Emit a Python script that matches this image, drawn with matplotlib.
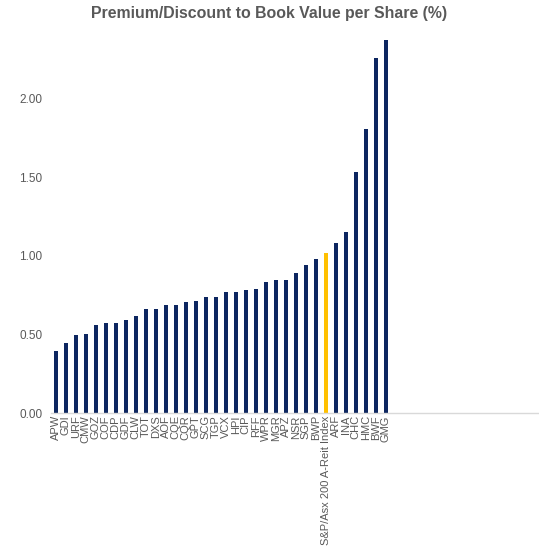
import matplotlib

matplotlib.use("Agg")

import matplotlib.pyplot as plt

plt.rcParams["font.family"] = ["Liberation Sans", "DejaVu Sans"]

tickers = [
    "APW", "GDI", "URF", "CMW", "GOZ", "COF", "CDP", "GDF", "CLW", "TOT",
    "DXS", "AOF", "CQE", "CQR", "GPT", "SCG", "TGP", "VCX", "HPI", "CIP",
    "RFF", "WPR", "MGR", "APZ", "NSR", "SGP", "BWP", "S&P/Asx 200 A-Reit Index",
    "ARF", "INA", "CHC", "HMC", "BWF", "GMG",
]
values = [
    0.396, 0.443, 0.494, 0.504, 0.560, 0.570, 0.570, 0.594, 0.617, 0.662,
    0.664, 0.685, 0.685, 0.708, 0.710, 0.738, 0.738, 0.768, 0.768, 0.781,
    0.791, 0.836, 0.847, 0.847, 0.887, 0.943, 0.976, 1.019,
    1.078, 1.153, 1.534, 1.804, 2.255, 2.372,
]
highlight = "S&P/Asx 200 A-Reit Index"

NAVY = "#0D2660"
GOLD = "#FFC000"
GREY = "#595959"

fig = plt.figure(figsize=(5.39, 5.53), dpi=100)
ax = fig.add_axes([0.094, 0.253, 0.906, 0.683])

colors = [GOLD if t == highlight else NAVY for t in tickers]
ax.bar(range(len(tickers)), values, width=0.4, color=colors)

ax.set_xlim(-0.5, 48.3)
ax.set_ylim(0, 2.4)
ax.set_yticks([0, 0.5, 1.0, 1.5, 2.0])
ax.set_yticklabels(["0.00", "0.50", "1.00", "1.50", "2.00"])
ax.set_xticks(range(len(tickers)))
ax.set_xticklabels(tickers, rotation=90)
ax.tick_params(axis="both", length=0, labelsize=8, colors=GREY)
ax.tick_params(axis="y", labelsize=8.5)
ax.tick_params(axis="x", pad=1.5)
ax.tick_params(axis="y", pad=6)

for side in ["top", "right", "left"]:
    ax.spines[side].set_visible(False)
ax.spines["bottom"].set_color("#D9D9D9")
ax.spines["bottom"].set_linewidth(1.0)

fig.text(0.5, 0.975, "Premium/Discount to Book Value per Share (%)", ha="center", va="center",
         fontsize=11.4, fontweight="bold", color=GREY)

fig.savefig("out.png", dpi=100, facecolor="white")
